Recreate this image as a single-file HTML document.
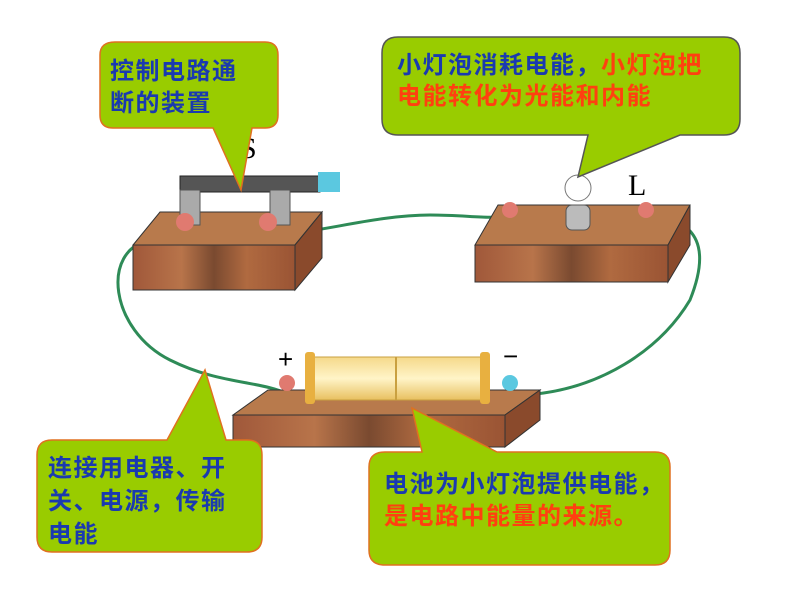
<!DOCTYPE html>
<html><head><meta charset="utf-8"><style>
body{margin:0;background:#fff;}
svg{display:block}
text{font-family:"Liberation Sans","Noto Sans CJK SC",sans-serif;font-size:24px;font-weight:bold;letter-spacing:1.5px}
</style></head><body>
<svg width="800" height="600" viewBox="0 0 800 600">
<defs>
<linearGradient id="wood" x1="0" x2="1">
<stop offset="0" stop-color="#a0583a"/><stop offset="0.3" stop-color="#b8744a"/><stop offset="0.5" stop-color="#7a4a30"/><stop offset="0.7" stop-color="#b06a40"/><stop offset="1" stop-color="#9a5434"/>
</linearGradient>
<linearGradient id="bat" x1="0" y1="0" x2="0" y2="1">
<stop offset="0" stop-color="#f5d98a"/><stop offset="0.5" stop-color="#fff4c8"/><stop offset="1" stop-color="#e8c060"/>
</linearGradient>
</defs>
<path d="M150,240 C100,250 110,330 170,360 C220,385 260,380 290,395" fill="none" stroke="#2e8b57" stroke-width="3"/>
<path d="M280,235 C330,230 380,215 430,215 C470,215 490,220 510,215" fill="none" stroke="#2e8b57" stroke-width="3"/>
<path d="M650,215 C700,220 710,250 690,300 C660,350 600,390 525,395" fill="none" stroke="#2e8b57" stroke-width="3"/>
<polygon points="133,245 295,245 322,212 160,212" fill="#b87a4c" stroke="#333"/>
<rect x="133" y="245" width="162" height="45" fill="url(#wood)" stroke="#333"/>
<polygon points="295,245 322,212 322,258 295,290" fill="#8a4a2c" stroke="#333"/>
<rect x="180" y="176" width="140" height="16" fill="#555" stroke="#222"/>
<rect x="318" y="172" width="22" height="20" fill="#5bc8e0"/>
<rect x="180" y="190" width="20" height="35" fill="#aaa" stroke="#555"/>
<rect x="270" y="190" width="20" height="35" fill="#aaa" stroke="#555"/>
<circle cx="185" cy="222" r="9" fill="#e07a70"/><circle cx="268" cy="222" r="9" fill="#e07a70"/>
<polygon points="475,245 668,245 690,205 498,205" fill="#b87a4c" stroke="#333"/>
<rect x="475" y="245" width="193" height="37" fill="url(#wood)" stroke="#333"/>
<polygon points="668,245 690,205 690,245 668,282" fill="#8a4a2c" stroke="#333"/>
<circle cx="510" cy="210" r="8" fill="#e07a70"/><circle cx="646" cy="210" r="8" fill="#e07a70"/>
<rect x="566" y="205" width="24" height="25" rx="6" fill="#bbb" stroke="#555"/>
<circle cx="578" cy="188" r="13" fill="#fff" stroke="#777"/>
<text x="628" y="195" style="font-family:'Liberation Serif',serif;font-weight:normal;font-size:30px">L</text>
<text x="240" y="158" style="font-family:'Liberation Serif',serif;font-weight:normal;font-size:30px">S</text>
<polygon points="233,415 505,415 540,390 268,390" fill="#b87a4c" stroke="#333"/>
<rect x="233" y="415" width="272" height="32" fill="url(#wood)" stroke="#333"/>
<polygon points="505,415 540,390 540,420 505,447" fill="#8a4a2c" stroke="#333"/>
<rect x="312" y="357" width="170" height="43" fill="url(#bat)" stroke="#c9a040"/>
<rect x="305" y="352" width="10" height="52" rx="3" fill="#e8b040"/>
<rect x="480" y="352" width="10" height="52" rx="3" fill="#e8b040"/>
<line x1="396" y1="357" x2="396" y2="400" stroke="#c9a040" stroke-width="2"/>
<circle cx="287" cy="383" r="8" fill="#e07a70"/><circle cx="510" cy="383" r="8" fill="#5bc8e0"/>
<text x="278" y="368" style="font-weight:normal;font-size:26px">+</text>
<text x="503" y="365" style="font-weight:normal;font-size:26px">−</text>
<path d="M115,42 H265 Q278,42 278,55 V115 Q278,128 265,128 H252 L241,190 L213,128 H113 Q100,128 100,115 V55 Q100,42 115,42 Z" fill="#99cc00" stroke="#e07020" stroke-width="1.5"/>
<text x="110" y="79" fill="#1a3ab0">控制电路通</text>
<text x="110" y="111" fill="#1a3ab0">断的装置</text>
<path d="M398,37 H724 Q740,37 740,53 V119 Q740,135 724,135 H680 L578,177 L588,135 H398 Q382,135 382,119 V53 Q382,37 398,37 Z" fill="#99cc00" stroke="#555" stroke-width="1.5"/>
<text x="397" y="73" fill="#1a3ab0">小灯泡消耗电能，<tspan fill="#ff4010">小灯泡把</tspan></text>
<text x="397" y="104" fill="#ff4010">电能转化为光能和内能</text>
<path d="M52,440 H167 L205,370 L226,440 H247 Q262,440 262,455 V537 Q262,552 247,552 H52 Q37,552 37,537 V455 Q37,440 52,440 Z" fill="#99cc00" stroke="#e07020" stroke-width="1.5"/>
<text x="48" y="476" fill="#1a3ab0">连接用电器、开</text>
<text x="48" y="509" fill="#1a3ab0">关、电源，传输</text>
<text x="48" y="542" fill="#1a3ab0">电能</text>
<path d="M385,452 H422 L412,408 L497,452 H655 Q670,452 670,467 V550 Q670,565 655,565 H385 Q369,565 369,550 V467 Q369,452 385,452 Z" fill="#99cc00" stroke="#e07020" stroke-width="1.5"/>
<text x="384" y="492" fill="#1a3ab0">电池为小灯泡提供电能，</text>
<text x="384" y="524" fill="#ff4010">是电路中能量的来源。</text>
</svg>
</body></html>
